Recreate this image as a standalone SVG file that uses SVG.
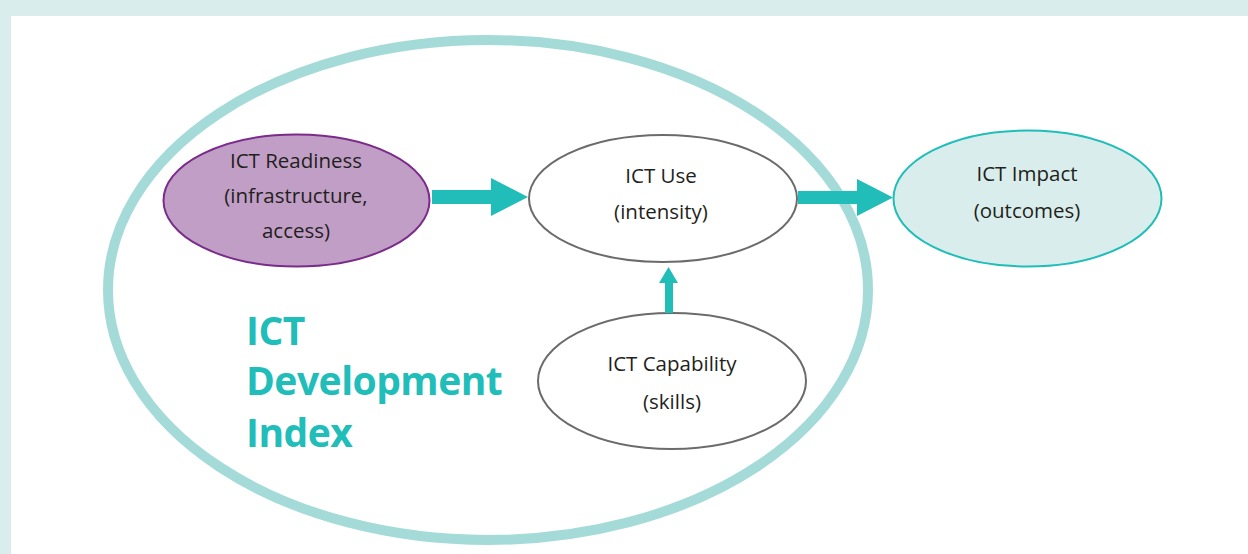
<svg xmlns="http://www.w3.org/2000/svg" width="1248" height="554" viewBox="0 0 1248 554">
<style>
.lbl{font-family:"Open Sans","Noto Sans","Liberation Sans",sans-serif;font-size:20.5px;fill:#231f20;text-anchor:middle}
.title{font-family:"Open Sans","Noto Sans","Liberation Sans",sans-serif;font-size:39px;font-weight:bold;fill:#20bdb9;letter-spacing:-0.5px}
.arrow{fill:#20bdb9}
</style>
<rect x="0" y="0" width="1248" height="554" fill="#d9eeec"/>
<rect x="11" y="16" width="1237" height="538" fill="#ffffff"/>
<g id="idi">
<ellipse cx="488" cy="290" rx="380" ry="250" fill="none" stroke="#a4dbd9" stroke-width="10"/>
<text class="title" x="246" y="345">ICT</text>
<text class="title" x="246" y="395">Development</text>
<text class="title" x="246" y="447">Index</text>
</g>
<g id="readiness">
<ellipse cx="296.5" cy="200.5" rx="133" ry="66" fill="#c19ec6" stroke="#7b2b8a" stroke-width="2"/>
<text class="lbl" x="296" y="168">ICT Readiness</text>
<text class="lbl" x="296" y="203">(infrastructure,</text>
<text class="lbl" x="296" y="238">access)</text>
</g>
<g id="use">
<ellipse cx="663" cy="198.5" rx="134" ry="63.5" fill="#ffffff" stroke="#6b6b6b" stroke-width="2"/>
<text class="lbl" x="661" y="183">ICT Use</text>
<text class="lbl" x="661" y="219">(intensity)</text>
</g>
<g id="impact">
<ellipse cx="1027.5" cy="198.5" rx="134" ry="68" fill="#d9eeec" stroke="#20bdb9" stroke-width="2"/>
<text class="lbl" x="1027" y="181">ICT Impact</text>
<text class="lbl" x="1027" y="218">(outcomes)</text>
</g>
<g id="capability">
<ellipse cx="672" cy="381" rx="134" ry="68" fill="#ffffff" stroke="#6b6b6b" stroke-width="2"/>
<text class="lbl" x="672" y="371">ICT Capability</text>
<text class="lbl" x="672" y="409">(skills)</text>
</g>
<g id="connectors">
<polygon class="arrow" points="432,190 491,190 491,178 528,197 491,216 491,204 432,204"/>
<polygon class="arrow" points="798,191 857,191 857,179 893,197.5 857,216 857,204 798,204"/>
<polygon class="arrow" points="665,313 665,283 659,283 668.5,267 678,283 673,283 673,313"/>
</g>
</svg>
